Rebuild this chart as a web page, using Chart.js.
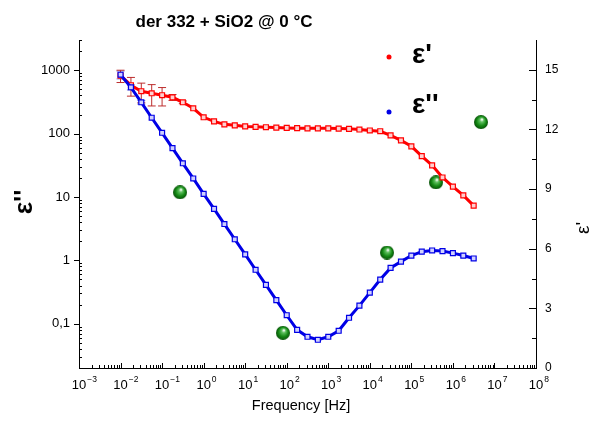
<!DOCTYPE html>
<html lang="en">
<head>
<meta charset="utf-8">
<style>
  html, body { margin: 0; padding: 0; background: #fff; }
</style>
</head>
<body>
<canvas id="myChart" width="597" height="423"></canvas>
<script src="https://cdn.jsdelivr.net/npm/chart.js"></script>
<script>
// frequency grid [Hz], 4 points per decade from 1e-2 to ~3e6
const freq = [0.01, 0.0178, 0.0316, 0.0562, 0.1, 0.178, 0.316, 0.562,
  1, 1.78, 3.16, 5.62, 10, 17.8, 31.6, 56.2, 100, 178, 316, 562,
  1000, 1780, 3160, 5620, 1e4, 1.78e4, 3.16e4, 5.62e4, 1e5, 1.78e5, 3.16e5, 5.62e5,
  1e6, 1.78e6, 3.16e6];

// eps' (red) and eps'' (blue)
const epsReal = [820, 580, 466, 433, 403, 374, 312, 251,
  181, 156, 140, 135, 130, 128, 126, 124.5, 123, 122, 121, 121,
  121, 120, 119, 116, 112, 109, 94, 78, 63, 44, 31.5, 20.3,
  14.6, 10.6, 7.3];
const epsImag = [850, 538, 312, 178, 103, 59, 34, 19.6,
  11.2, 6.5, 3.74, 2.15, 1.24, 0.71, 0.41, 0.236, 0.136, 0.08, 0.0622, 0.0558,
  0.0622, 0.0774, 0.124, 0.193, 0.309, 0.497, 0.76, 0.955, 1.19, 1.37, 1.43, 1.4,
  1.3, 1.19, 1.07];

// error bars (absolute, same units)
const epsRealErr = [180, 190, 160, 160, 130, 40, 15, 0,
  0, 0, 0, 0, 0, 0, 0, 0, 0, 0, 0, 0,
  0, 0, 0, 0, 0, 0, 0, 0, 0, 0, 0, 0,
  0, 0, 0];
const epsImagErr = [120, 50, 20, 0, 0, 0, 0, 0,
  0, 0, 0, 0, 0, 0, 0, 0, 0, 0, 0, 0,
  0, 0, 0, 0, 0, 0, 0, 0, 0, 0, 0, 0,
  0, 0, 0];

// green points on the right axis
const ballFreq = [0.27, 81, 25900, 391000, 4730000];
const ballValue = [8.84, 1.77, 5.81, 9.34, 12.37];

const xDecades = [-3, -2, -1, 0, 1, 2, 3, 4, 5, 6, 7, 8];
const leftTicks = [0.1, 1, 10, 100, 1000];
const rightTicks = [0, 3, 6, 9, 12, 15];

const fam = '"Liberation Sans", Arial, sans-serif';

function makeBall(r) {
  const c = document.createElement('canvas');
  c.width = c.height = 2 * r;
  const g = c.getContext('2d');
  const grad = g.createRadialGradient(r * 1.15, r * 0.6, r * 0.05, r, r, r);
  grad.addColorStop(0, '#ffffff');
  grad.addColorStop(0.25, '#60c060');
  grad.addColorStop(0.65, '#158a15');
  grad.addColorStop(1, '#075007');
  g.fillStyle = grad;
  g.beginPath();
  g.arc(r, r, r, 0, 2 * Math.PI);
  g.fill();
  return c;
}

const errorBars = {
  id: 'errorBars',
  beforeDatasetsDraw(chart) {
    const { ctx, scales: { x, y } } = chart;
    ctx.save();
    ctx.lineWidth = 1;
    chart.data.datasets.forEach(ds => {
      if (!ds.errorBars) return;
      ctx.strokeStyle = ds.errorColor;
      ds.data.forEach((p, j) => {
        const e = ds.errorBars[j];
        if (!e) return;
        const px = x.getPixelForValue(p.x);
        const top = y.getPixelForValue(p.y + e);
        const bot = y.getPixelForValue(Math.max(p.y - e, 1e-6));
        ctx.beginPath();
        ctx.moveTo(px, top); ctx.lineTo(px, bot);
        ctx.moveTo(px - 4, top); ctx.lineTo(px + 4, top);
        ctx.moveTo(px - 4, bot); ctx.lineTo(px + 4, bot);
        ctx.stroke();
      });
    });
    ctx.restore();
  }
};

const decorations = {
  id: 'decorations',
  afterDraw(chart) {
    const { ctx, chartArea: a, scales: { x, y, y1 } } = chart;
    ctx.save();
    ctx.strokeStyle = '#000';
    ctx.lineWidth = 1;
    ctx.beginPath();
    // x ticks (inward)
    xDecades.forEach(k => {
      const px = Math.round(x.getPixelForValue(Math.pow(10, k))) + 0.5;
      ctx.moveTo(px, a.bottom); ctx.lineTo(px, a.bottom - 5);
      if (k < 8) {
        for (let m = 2; m <= 9; m++) {
          const pm = Math.round(x.getPixelForValue(m * Math.pow(10, k))) + 0.5;
          ctx.moveTo(pm, a.bottom); ctx.lineTo(pm, a.bottom - 3);
        }
      }
    });
    // left log ticks
    for (let k = -2; k <= 3; k++) {
      for (let m = 1; m <= 9; m++) {
        const v = m * Math.pow(10, k);
        if (v < y.min || v > y.max) continue;
        const py = Math.round(y.getPixelForValue(v)) + 0.5;
        if (m === 1) { ctx.moveTo(a.left - 5, py); ctx.lineTo(a.left, py); }
        else { ctx.moveTo(a.left, py); ctx.lineTo(a.left + 3, py); }
      }
    }
    // right linear ticks (inward)
    for (let v = 0; v <= 15; v += 1.5) {
      const py = Math.round(y1.getPixelForValue(v)) + 0.5;
      const len = (v % 3 === 0) ? 7 : 4;
      ctx.moveTo(a.right, py); ctx.lineTo(a.right - len, py);
    }
    ctx.stroke();

    // x tick labels 10^k
    ctx.fillStyle = '#000';
    ctx.textBaseline = 'alphabetic';
    xDecades.forEach(k => {
      const px = x.getPixelForValue(Math.pow(10, k));
      ctx.font = '13px ' + fam;
      const w = ctx.measureText('10').width;
      ctx.textAlign = 'center';
      ctx.fillText('10', px, 389);
      ctx.font = '8.5px ' + fam;
      ctx.textAlign = 'left';
      ctx.fillText(String(k).replace('-', '\u2212'), px + w / 2 + 1, 382);
    });

    // axis titles
    ctx.textAlign = 'center';
    ctx.font = '14.5px ' + fam;
    ctx.fillText('Frequency [Hz]', 301, 410);

    ctx.save();
    ctx.translate(32, 202);
    ctx.rotate(-Math.PI / 2);
    ctx.font = 'bold 26px ' + fam;
    ctx.fillText("\u03b5''", 0, 0);
    ctx.restore();

    ctx.save();
    ctx.translate(589, 228);
    ctx.rotate(-Math.PI / 2);
    ctx.font = '19px ' + fam;
    ctx.fillText("\u03b5'", 0, 0);
    ctx.restore();

    // title
    ctx.font = 'bold 17px ' + fam;
    ctx.fillText('der 332 + SiO2 @ 0 \u00b0C', 224, 27);

    // legend
    const items = [
      { ds: chart.data.datasets[1], dotY: 57, textY: 63 },
      { ds: chart.data.datasets[0], dotY: 112, textY: 113 }
    ];
    items.forEach(it => {
      ctx.fillStyle = it.ds.borderColor;
      ctx.beginPath();
      ctx.arc(389, it.dotY, 2.5, 0, 2 * Math.PI);
      ctx.fill();
      ctx.fillStyle = '#000';
      ctx.textAlign = 'left';
      ctx.font = 'bold 28px ' + fam;
      ctx.fillText(it.ds.label, 412, it.textY);
    });
    ctx.restore();
  }
};

const config = {
  type: 'scatter',
  data: {
    datasets: [
      {
        label: "\u03b5''",
        data: freq.map((f, i) => ({ x: f, y: epsImag[i] })),
        yAxisID: 'y',
        showLine: true,
        borderColor: '#0000e6',
        borderWidth: 3,
        pointStyle: 'rect',
        pointRadius: 3.5,
        pointBorderWidth: 1.2,
        pointBorderColor: '#0000e6',
        pointBackgroundColor: '#d0d0ff',
        errorBars: epsImagErr,
        errorColor: 'rgba(110,110,210,0.9)'
      },
      {
        label: "\u03b5'",
        data: freq.map((f, i) => ({ x: f, y: epsReal[i] })),
        yAxisID: 'y',
        showLine: true,
        borderColor: '#ff0000',
        borderWidth: 3,
        pointStyle: 'rect',
        pointRadius: 3.5,
        pointBorderWidth: 1.2,
        pointBorderColor: '#ff0000',
        pointBackgroundColor: '#ffd0d0',
        errorBars: epsRealErr,
        errorColor: 'rgba(185,35,35,0.95)'
      },
      {
        label: 'points',
        data: ballFreq.map((f, i) => ({ x: f, y: ballValue[i] })),
        yAxisID: 'y1',
        showLine: false,
        pointStyle: makeBall(7),
        pointRadius: 7
      }
    ]
  },
  options: {
    responsive: false,
    animation: false,
    devicePixelRatio: 1,
    layout: { padding: { top: 40, left: 0, right: 0, bottom: 0 } },
    plugins: { legend: { display: false }, title: { display: false }, tooltip: { enabled: false } },
    scales: {
      x: {
        type: 'logarithmic',
        position: 'bottom',
        min: 1e-3,
        max: 1e8,
        afterBuildTicks: s => { s.ticks = xDecades.map(k => ({ value: Math.pow(10, k) })); },
        afterFit: s => { s.height = 55; },
        ticks: { display: false },
        grid: { drawOnChartArea: false, drawTicks: false },
        border: { display: true, color: '#000', width: 1 }
      },
      y: {
        type: 'logarithmic',
        position: 'left',
        min: 0.02,
        max: 3000,
        afterBuildTicks: s => { s.ticks = leftTicks.map(v => ({ value: v })); },
        afterFit: s => { s.width = 79; },
        ticks: {
          autoSkip: false,
          padding: 9,
          color: '#000',
          font: { family: fam, size: 13 },
          callback: v => String(v).replace('.', ',')
        },
        grid: { drawOnChartArea: false, drawTicks: false },
        border: { display: true, color: '#000', width: 1 }
      },
      y1: {
        type: 'linear',
        position: 'right',
        min: 0,
        max: 16.5,
        afterBuildTicks: s => { s.ticks = rightTicks.map(v => ({ value: v })); },
        afterFit: s => { s.width = 61; },
        ticks: {
          autoSkip: false,
          padding: 9,
          color: '#000',
          font: { family: fam, size: 12 }
        },
        grid: { drawOnChartArea: false, drawTicks: false },
        border: { display: true, color: '#000', width: 1 }
      }
    }
  },
  plugins: [errorBars, decorations]
};

const myChart = new Chart(document.getElementById('myChart'), config);
</script>
</body>
</html>
